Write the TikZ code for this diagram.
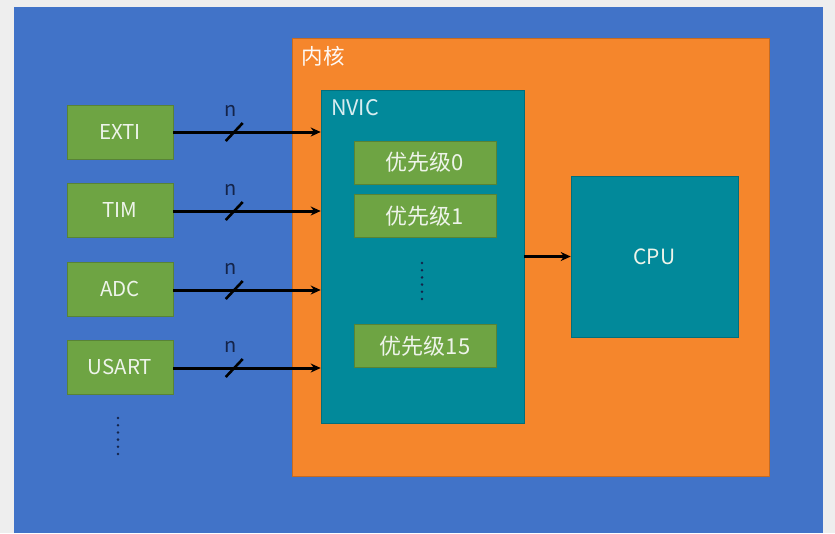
\documentclass[tikz,border=0pt]{standalone}
\usepackage{fontspec}
\setmainfont{Noto Sans CJK SC}
\usetikzlibrary{arrows.meta}
\definecolor{outerbg}{HTML}{EEEEEE}
\definecolor{bgblue}{HTML}{4173C8}
\definecolor{coreor}{HTML}{F5862C}
\definecolor{tealc}{HTML}{02899A}
\definecolor{greenc}{HTML}{6EA443}
\definecolor{dotc}{HTML}{14244A}
\definecolor{txtc}{HTML}{EEF4EA}
\tikzset{
  box/.style={draw=#1!80!black, line width=0.6pt, inner sep=0pt},
  gbox/.style={box=greenc, fill=greenc, minimum width=106pt, minimum height=54pt,
    text=txtc, font=\fontsize{20.5}{24}\selectfont},
  pbox/.style={box=greenc, fill=greenc, minimum width=142pt, minimum height=43pt,
    text=txtc, font=\fontsize{22}{24}\selectfont},
  sig/.style={line width=3pt, -{Stealth[length=10pt,width=9pt]}},
  slash/.style={line width=2.6pt},
  nlab/.style={text=dotc, font=\fontsize{20}{22}\selectfont, inner sep=0pt},
  ttl/.style={font=\fontsize{21.5}{24}\selectfont, inner sep=0pt},
  dotm/.style={fill=dotc, draw=none},
}
\begin{document}
\begin{tikzpicture}[x=1pt,y=-1pt]
\useasboundingbox (0,0) rectangle (835,533);
\fill[outerbg] (0,0) rectangle (835,533);
\fill[bgblue] (14,7) rectangle (823,533);
\node[box=coreor, fill=coreor, minimum width=477pt, minimum height=438pt] (core) at (530.5,257) {};
\node[ttl, text=white!95!coreor] (corelab) at (323,56) {内核};
\node[box=tealc, fill=tealc, minimum width=203pt, minimum height=333pt] (nvic) at (422.5,256.5) {};
\node[ttl, text=white!85!tealc] (nviclab) at (355,108) {NVIC};
\node[pbox] (p0) at (425,162.5) {优先级0};
\node[pbox] (p1) at (425,216) {优先级1};
\node[pbox] (p15) at (425,346) {优先级15};
\node[box=tealc, fill=tealc, minimum width=167pt, minimum height=161pt,
  text=txtc, font=\fontsize{21}{24}\selectfont] (cpu) at (654.5,256.5) {CPU};
\node[gbox] (exti) at (120,132) {EXTI};
\node[gbox] (tim) at (120,210) {TIM};
\node[gbox] (adc) at (120,289) {ADC};
\node[gbox] (usart) at (120,367) {USART};
\foreach \s/\y in {exti/132,tim/211,adc/290,usart/368}{
  \draw[sig] (\s.east |- 0,\y) -- coordinate[pos=0.41] (sl\s) (nvic.west |- 0,\y);
  \draw[slash] ([shift={(-8,9)}]sl\s) -- ([shift={(9,-9)}]sl\s);
  \node[nlab] (n\s) at ([shift={(-3,-21)}]sl\s) {n};
}
\draw[sig] (nvic.east |- cpu.west) -- (cpu.west);
\foreach \i in {0,...,5}{
  \fill[dotm] (118,418+7.2*\i) circle (1.4pt);
  \fill[dotm] (422,263+7.2*\i) circle (1.4pt);
}
\end{tikzpicture}
\end{document}
